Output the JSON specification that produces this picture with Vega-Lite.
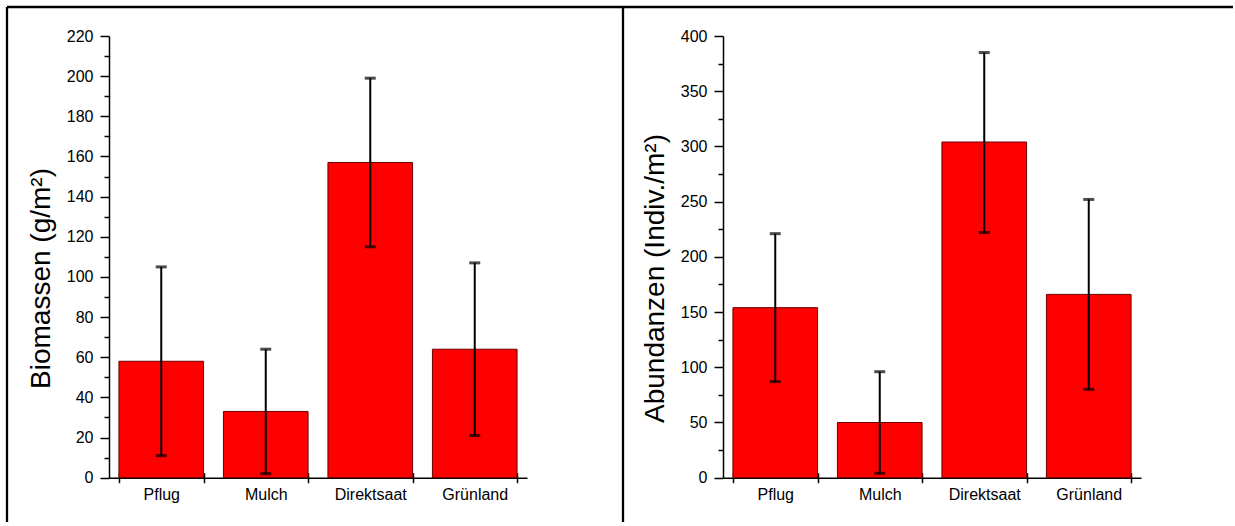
{
  "$schema": "https://vega.github.io/schema/vega-lite/v6.json",
  "padding": {"left": 5, "top": 5, "right": 0, "bottom": 0},
  "background": "white",
  "spacing": 0,
  "bounds": "flush",
  "config": {
    "view": {"stroke": "black", "strokeWidth": 2.3},
    "font": "Liberation Sans",
    "axis": {
      "domainColor": "black", "tickColor": "black", "labelColor": "black", "titleColor": "black",
      "labelFont": "Liberation Sans", "titleFont": "Liberation Sans", "grid": false,
      "labelFontSize": 16, "titleFontSize": 28, "titleFontWeight": "normal",
      "domainWidth": 1.5, "tickWidth": 1.5
    }
  },
  "datasets": {
    "bio": [
      {"cat": "Pflug", "mean": 58, "lo": 11, "hi": 105},
      {"cat": "Mulch", "mean": 33, "lo": 2, "hi": 64},
      {"cat": "Direktsaat", "mean": 157, "lo": 115, "hi": 199},
      {"cat": "Grünland", "mean": 64, "lo": 21, "hi": 107}
    ],
    "abu": [
      {"cat": "Pflug", "mean": 154, "lo": 87, "hi": 221},
      {"cat": "Mulch", "mean": 50, "lo": 4, "hi": 96},
      {"cat": "Direktsaat", "mean": 304, "lo": 222, "hi": 385},
      {"cat": "Grünland", "mean": 166, "lo": 80, "hi": 252}
    ]
  },
  "hconcat": [
    {
      "width": 616, "height": 515,
      "view": {"stroke": "black", "strokeWidth": 2.3, "strokeDash": [616, 1131, 515, 0]},
      "data": {"name": "bio"},
      "resolve": {"axis": {"x": "independent", "y": "independent"}},
      "layer": [
        {
          "mark": {"type": "bar", "fill": "#ff0000", "stroke": "#6b0000", "strokeWidth": 1},
          "encoding": {
            "x": {"field": "cat", "type": "nominal", "sort": null,
              "scale": {"range": [102, 520], "paddingInner": 0.19, "paddingOuter": 0.095},
              "axis": {"orient": "bottom", "offset": -44.3, "title": null, "labelAngle": 0, "tickSize": 5, "labelPadding": 4, "tickBand": "extent"}},
            "y": {"field": "mean", "type": "quantitative",
              "scale": {"domain": [0, 220], "range": [470.7, 29], "nice": false},
              "axis": {"orient": "left", "offset": -102, "values": [0,20,40,60,80,100,120,140,160,180,200,220], "tickSize": 9, "labelPadding": 7,
                "title": "Biomassen (g/m²)", "titleX": -54, "titleY": 271}}
          }
        },
        {
          "mark": {"type": "rule", "strokeWidth": 2, "color": "black"},
          "encoding": {
            "x": {"field": "cat", "type": "nominal", "sort": null,
              "axis": {"orient": "bottom", "offset": -44.3, "title": null, "labels": false, "domain": false, "tickSize": -5, "tickBand": "extent"}},
            "y": {"field": "lo", "type": "quantitative",
              "axis": {"orient": "left", "offset": -102, "values": [10,30,50,70,90,110,130,150,170,190,210], "tickSize": 5, "labels": false, "domain": false, "title": null}},
            "y2": {"field": "hi"}
          }
        },
        {
          "transform": [{"fold": ["lo", "hi"], "as": ["k", "v"]}],
          "mark": {"type": "tick", "thickness": 3, "size": 11, "color": "black"},
          "encoding": {
            "x": {"field": "cat", "type": "nominal", "sort": null, "axis": null},
            "y": {"field": "v", "type": "quantitative", "axis": null}
          }
        }
      ]
    },
    {
      "width": 610, "height": 515,
      "view": {"stroke": "black", "strokeWidth": 2.3, "strokeDash": [610, 1125, 515, 0]},
      "data": {"name": "abu"},
      "resolve": {"axis": {"x": "independent", "y": "independent"}},
      "layer": [
        {
          "mark": {"type": "bar", "fill": "#ff0000", "stroke": "#6b0000", "strokeWidth": 1},
          "encoding": {
            "x": {"field": "cat", "type": "nominal", "sort": null,
              "scale": {"range": [100, 518], "paddingInner": 0.19, "paddingOuter": 0.095},
              "axis": {"orient": "bottom", "offset": -44.3, "title": null, "labelAngle": 0, "tickSize": 5, "labelPadding": 4, "tickBand": "extent"}},
            "y": {"field": "mean", "type": "quantitative",
              "scale": {"domain": [0, 400], "range": [470.7, 29], "nice": false},
              "axis": {"orient": "left", "offset": -100, "values": [0,50,100,150,200,250,300,350,400], "tickSize": 9, "labelPadding": 7,
                "title": "Abundanzen (Indiv./m²)", "titleX": -54, "titleY": 271}}
          }
        },
        {
          "mark": {"type": "rule", "strokeWidth": 2, "color": "black"},
          "encoding": {
            "x": {"field": "cat", "type": "nominal", "sort": null,
              "axis": {"orient": "bottom", "offset": -44.3, "title": null, "labels": false, "domain": false, "tickSize": -5, "tickBand": "extent"}},
            "y": {"field": "lo", "type": "quantitative",
              "axis": {"orient": "left", "offset": -100, "values": [25,75,125,175,225,275,325,375], "tickSize": 5, "labels": false, "domain": false, "title": null}},
            "y2": {"field": "hi"}
          }
        },
        {
          "transform": [{"fold": ["lo", "hi"], "as": ["k", "v"]}],
          "mark": {"type": "tick", "thickness": 3, "size": 11, "color": "black"},
          "encoding": {
            "x": {"field": "cat", "type": "nominal", "sort": null, "axis": null},
            "y": {"field": "v", "type": "quantitative", "axis": null}
          }
        }
      ]
    }
  ]
}
